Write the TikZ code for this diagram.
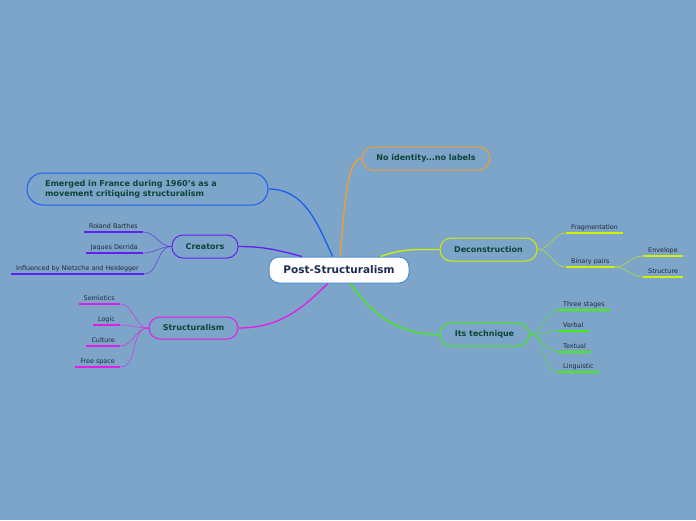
\documentclass[tikz,border=0pt]{standalone}
\usepackage{fontspec}
\setmainfont{DejaVu Sans}
\definecolor{bgc}{HTML}{7DA4C9}
\definecolor{cblue}{HTML}{1A5FF0}
\definecolor{cpurple}{HTML}{6020F0}
\definecolor{cmag}{HTML}{E01EE8}
\definecolor{corange}{HTML}{F0A030}
\definecolor{cyel}{HTML}{D0F000}
\definecolor{cgreen}{HTML}{44EE10}
\definecolor{centerborder}{HTML}{4A90D0}
\definecolor{tealtext}{HTML}{0B4636}
\definecolor{navytext}{HTML}{1B2B52}
\definecolor{leaftext}{HTML}{1E2A38}
\begin{document}
\begin{tikzpicture}[x=1pt,y=-1pt,
  central/.style={draw=centerborder, fill=white, line width=1pt, rounded corners=10pt,
    minimum width=140pt, minimum height=26pt, inner sep=0pt,
    font=\bfseries\fontsize{10.5}{12}\selectfont, text=navytext},
  branch/.style={draw=#1, line width=1pt, rounded corners=11pt, inner sep=0pt,
    minimum height=23pt, font=\bfseries\fontsize{8}{10}\selectfont, text=tealtext},
  leaf/.style={inner xsep=5pt, inner ysep=1.5pt, text height=5pt, text depth=1.5pt,
    font=\fontsize{6.4}{7.5}\selectfont, text=leaftext},
  ul/.style={draw=#1, line width=1.4pt},
  mainlink/.style={draw=#1, line width=1.3pt},
  leaflink/.style={draw=#1, line width=0.6pt, draw opacity=0.75}
]
\useasboundingbox (0,0) rectangle (696,520);
\fill[bgc] (0,0) rectangle (696,520);

% central
\node[central] (c) at (339,270) {Post-Structuralism};

% branches
\node[branch=cblue, minimum width=241pt, minimum height=32pt, rounded corners=16pt,
  text width=205pt, align=left, font=\bfseries\fontsize{8.1}{10}\selectfont] (em) at (147.5,189)
  {Emerged in France during 1960's as a\\movement critiquing structuralism};
\node[branch=cpurple, minimum width=66pt] (cr) at (205,246.5) {Creators};
\node[branch=cmag, minimum width=89pt, minimum height=22pt] (st) at (193.5,328) {Structuralism};
\node[branch=corange, minimum width=128pt] (ni) at (426,158.5) {No identity...no labels};
\node[branch=cyel, minimum width=97pt] (de) at (488.5,249.5) {Deconstruction};
\node[branch=cgreen, minimum width=89pt] (te) at (484.5,334.5) {Its technique};

% main links
\draw[mainlink=cblue] (c.115) to[out=115,in=0] (em.east);
\draw[mainlink=cpurple] (c.160) to[out=165,in=0] (cr.east);
\draw[mainlink=cmag] (c.230) to[out=225,in=0] (st.east);
\draw[mainlink=corange] (c.85) .. controls (345,195) and (348,160) .. (ni.west);
\draw[mainlink=cyel] (c.18) to[out=20,in=180] (de.west);
\draw[mainlink=cgreen] (c.-50) to[out=-55,in=180] (te.west);

% creators leaves
\node[leaf, anchor=south east] (rb) at (143,232) {Roland Barthes};
\node[leaf, anchor=south east] (jd) at (143,253) {Jaques Derrida};
\node[leaf, anchor=south east] (inf) at (144,274) {Influenced by Nietzche and Heidegger};
\foreach \n in {rb,jd,inf}{
  \draw[ul=cpurple] (\n.south west) -- (\n.south east);
  \draw[leaflink=cpurple] (\n.south east) to[out=0,in=180] (cr.west);
}

% structuralism leaves
\node[leaf, anchor=south east] (se) at (120,304) {Semiotics};
\node[leaf, anchor=south east] (lo) at (120,325) {Logic};
\node[leaf, anchor=south east] (cu) at (120,346) {Culture};
\node[leaf, anchor=south east] (fs) at (120,367) {Free space};
\foreach \n in {se,lo,cu,fs}{
  \draw[ul=cmag] (\n.south west) -- (\n.south east);
  \draw[leaflink=cmag] (\n.south east) to[out=0,in=180] (st.west);
}

% deconstruction leaves
\node[leaf, anchor=south west] (fr) at (566,233) {Fragmentation};
\node[leaf, anchor=south west] (bp) at (566,267) {Binary pairs\hspace{8pt}};
\node[leaf, anchor=south west] (en) at (643,256) {Envelope\hspace{1pt}};
\node[leaf, anchor=south west] (sr) at (643,277) {Structure\hspace{1pt}};
\foreach \n in {fr,bp}{
  \draw[ul=cyel] (\n.south west) -- (\n.south east);
  \draw[leaflink=cyel] (de.east) to[out=0,in=180] (\n.south west);
}
\foreach \n in {en,sr}{
  \draw[ul=cyel] (\n.south west) -- (\n.south east);
  \draw[leaflink=cyel] (bp.south east) to[out=0,in=180] (\n.south west);
}

% technique leaves
\node[leaf, anchor=south west] (ts) at (558,310) {Three stages};
\node[leaf, anchor=south west] (vb) at (558,331) {Verbal\hspace{2pt}};
\node[leaf, anchor=south west] (tx) at (558,352) {Textual};
\node[leaf, anchor=south west] (lg) at (558,372) {Linguistic};
\foreach \n in {ts,vb,tx,lg}{
  \draw[ul=cgreen] (\n.south west) -- (\n.south east);
  \draw[leaflink=cgreen] (te.east) to[out=0,in=180] (\n.south west);
}
\end{tikzpicture}
\end{document}
